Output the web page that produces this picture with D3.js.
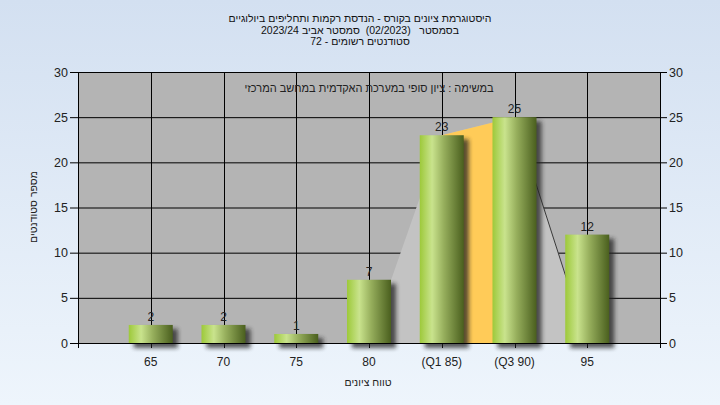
<!DOCTYPE html>
<html><head><meta charset="utf-8">
<script src="https://cdn.jsdelivr.net/npm/d3@7"></script>
<style>
html,body{margin:0;padding:0;}
svg{display:block;font-family:"Liberation Sans",Arial,sans-serif;}
</style></head>
<body><svg id="c" width="720" height="405"></svg>
<script>
const titleLines = ["היסטוגרמת ציונים בקורס - הנדסת רקמות ותחליפים ביולוגיים", "בסמסטר   (02/2023)  סמסטר אביב 2023/24", "סטודנטים רשומים - 72"];
const subtitle = "במשימה : ציון סופי במערכת האקדמית במחשב המרכזי";
const categories = ["65","70","75","80","(Q1 85)","(Q3 90)","95"];
const counts = [2,2,1,7,23,25,12];
const areaValues = [null,null,null,0,23,25,0];
const quartileCats = ["(Q1 85)","(Q3 90)"];
const yTicks = [0,5,10,15,20,25,30];
const xTitle = "טווח ציונים";
const yTitle = "מספר סטודנטים";

const svg = d3.select("#c");
const W=720,H=405;
const L=78,R=660,T=72,B=343;
const defs = svg.append("defs");
const bg = defs.append("linearGradient").attr("id","bg").attr("x1",0).attr("y1",0).attr("x2",0).attr("y2",1);
bg.append("stop").attr("offset","0").attr("stop-color","#d3e0f1");
bg.append("stop").attr("offset","1").attr("stop-color","#eef5fc");
const bar = defs.append("linearGradient").attr("id","bar").attr("x1",0).attr("y1",0).attr("x2",1).attr("y2",0);
[[0,"#9dc93a"],[0.28,"#c9e38d"],[0.55,"#96ae5c"],[1,"#4a5f1e"]].forEach(s=>bar.append("stop").attr("offset",s[0]).attr("stop-color",s[1]));
const f = defs.append("filter").attr("id","sh").attr("x","-50%").attr("y","-50%").attr("width","200%").attr("height","200%");
f.append("feGaussianBlur").attr("stdDeviation",2);

svg.append("rect").attr("width",W).attr("height",H).attr("fill","url(#bg)");

const x = d3.scalePoint().domain(categories).range([L,R]).padding(1);
const y = d3.scaleLinear().domain([0,30]).range([B,T]);

svg.append("rect").attr("x",L).attr("y",T).attr("width",R-L).attr("height",B-T).attr("fill","#b4b4b4");

// gridlines
const g = svg.append("g");
g.selectAll("line.h").data(yTicks).join("line")
 .attr("x1",L-8).attr("x2",R+7).attr("y1",d=>y(d)+0.5).attr("y2",d=>y(d)+0.5)
 .attr("stroke","#000").attr("stroke-width",1);
g.selectAll("line.v").data(categories).join("line")
 .attr("x1",d=>Math.round(x(d))+0.5).attr("x2",d=>Math.round(x(d))+0.5).attr("y1",T).attr("y2",B+5)
 .attr("stroke","#000").attr("stroke-width",1);

// area
const pts = categories.map((c,i)=>({c,v:areaValues[i]})).filter(d=>d.v!==null);
const area = d3.area().x(d=>x(d.c)).y0(y(0)).y1(d=>y(d.v));
svg.append("path").datum(pts).attr("d",area).attr("fill","#c3c3c3");
const qpts = pts.filter(d=>quartileCats.includes(d.c));
svg.append("path").datum(qpts).attr("d",area).attr("fill","#ffcb58");
const last2 = pts.slice(-2);
svg.append("path").datum(last2).attr("d",d3.line().x(d=>x(d.c)).y(d=>y(d.v))).attr("stroke","#3a3a3a").attr("fill","none").attr("stroke-width",1);

// axes lines
svg.append("line").attr("x1",L+0.5).attr("x2",L+0.5).attr("y1",T).attr("y2",B+5).attr("stroke","#000");
svg.append("line").attr("x1",R+0.5).attr("x2",R+0.5).attr("y1",T).attr("y2",B+5).attr("stroke","#000");

// subtitle
svg.append("text").attr("x",369).attr("y",92).attr("text-anchor","middle").attr("font-size",11).attr("fill","#222").text(subtitle);

// bars
const bw=44;
const data = categories.map((c,i)=>({c,v:counts[i]}));
svg.append("g").selectAll("rect").data(data).join("rect")
 .attr("x",d=>x(d.c)-bw/2+5).attr("y",d=>y(d.v)+4).attr("width",bw).attr("height",d=>B-y(d.v)+1)
 .attr("fill","#222").attr("opacity",0.75).attr("filter","url(#sh)");
svg.append("g").selectAll("rect").data(data).join("rect")
 .attr("x",d=>x(d.c)-bw/2).attr("y",d=>y(d.v)).attr("width",bw).attr("height",d=>B-y(d.v))
 .attr("fill","url(#bar)");
svg.append("line").attr("x1",L).attr("x2",R).attr("y1",B+0.5).attr("y2",B+0.5).attr("stroke","#000");
svg.append("g").selectAll("text").data(data).join("text")
 .attr("x",d=>x(d.c)).attr("y",d=>y(d.v)-4).attr("text-anchor","middle").attr("font-size",12).attr("fill","#222").text(d=>d.v);

// tick labels
svg.append("g").selectAll("text").data(yTicks).join("text")
 .attr("x",L-10).attr("y",d=>y(d)+4.5).attr("text-anchor","end").attr("font-size",12.5).attr("fill","#222").text(d=>d);
svg.append("g").selectAll("text").data(yTicks).join("text")
 .attr("x",R+9).attr("y",d=>y(d)+4.5).attr("text-anchor","start").attr("font-size",12.5).attr("fill","#222").text(d=>d);
svg.append("g").selectAll("text").data(categories).join("text")
 .attr("x",d=>x(d)).attr("y",366).attr("text-anchor","middle").attr("font-size",12).attr("fill","#222").text(d=>d);

svg.append("text").attr("x",368).attr("y",386).attr("text-anchor","middle").attr("font-size",10.5).attr("fill","#222").text(xTitle);
svg.append("text").attr("transform","translate(37,207) rotate(-90)").attr("text-anchor","middle").attr("font-size",10.5).attr("fill","#222").text(yTitle);

svg.append("g").selectAll("text").data(titleLines).join("text")
 .attr("x",360).attr("y",(d,i)=>22+i*11.5).attr("text-anchor","middle").attr("font-size",10.5)
 .attr("fill","#111").style("white-space","pre").text(d=>d);
</script></body></html>
